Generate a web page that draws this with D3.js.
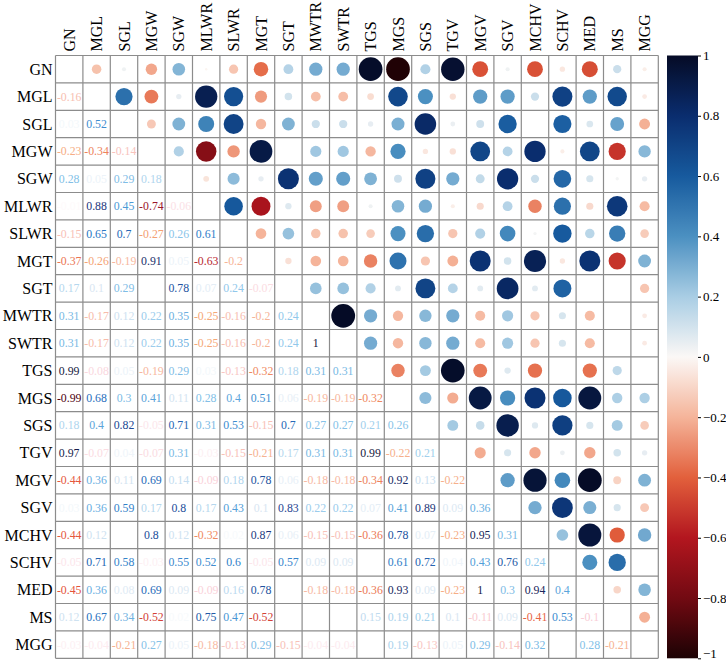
<!DOCTYPE html>
<html>
<head>
<meta charset="utf-8">
<script src="https://cdn.jsdelivr.net/npm/d3@7"></script>
<style>
  html, body { margin: 0; padding: 0; background: #ffffff; }
  svg { display: block; }
</style>
</head>
<body>
<svg id="chart" width="726" height="660"></svg>
<script>
// ---------- DATA ----------
const variables = ["GN","MGL","SGL","MGW","SGW","MLWR","SLWR","MGT","SGT","MWTR","SWTR",
                   "TGS","MGS","SGS","TGV","MGV","SGV","MCHV","SCHV","MED","MS","MGG"];

// lower-triangle correlation values (row i, columns 0..i-1)
const corrLower = [
  [],
  [-0.16],
  [0.03, 0.52],
  [-0.23, -0.34, -0.14],
  [0.28, 0.05, 0.29, 0.18],
  [-0.01, 0.88, 0.45, -0.74, -0.06],
  [-0.15, 0.65, 0.7, -0.27, 0.26, 0.61],
  [-0.37, -0.26, -0.19, 0.91, 0.05, -0.63, -0.2],
  [0.17, 0.1, 0.29, 0, 0.78, 0.07, 0.24, -0.07],
  [0.31, -0.17, 0.12, 0.22, 0.35, -0.25, -0.16, -0.2, 0.24],
  [0.31, -0.17, 0.12, 0.22, 0.35, -0.25, -0.16, -0.2, 0.24, 1],
  [0.99, -0.08, 0.05, -0.19, 0.29, 0.03, -0.13, -0.32, 0.18, 0.31, 0.31],
  [-0.99, 0.68, 0.3, 0.41, 0.11, 0.28, 0.4, 0.51, 0.06, -0.19, -0.19, -0.32],
  [0.18, 0.4, 0.82, -0.05, 0.71, 0.31, 0.53, -0.15, 0.7, 0.27, 0.27, 0.21, 0.26],
  [0.97, -0.07, 0.04, -0.07, 0.31, -0.03, -0.15, -0.21, 0.17, 0.31, 0.31, 0.99, -0.22, 0.21],
  [-0.44, 0.36, 0.11, 0.69, 0.14, -0.09, 0.18, 0.78, 0.06, -0.18, -0.18, -0.34, 0.92, 0.13, -0.22],
  [0.03, 0.36, 0.59, 0.17, 0.8, 0.17, 0.43, 0.1, 0.83, 0.22, 0.22, 0.07, 0.41, 0.89, 0.09, 0.36],
  [-0.44, 0.12, 0, 0.8, 0.12, -0.32, 0.02, 0.87, 0.06, -0.15, -0.15, -0.36, 0.78, 0.07, -0.23, 0.95, 0.31],
  [-0.05, 0.71, 0.58, -0.03, 0.55, 0.52, 0.6, -0.05, 0.57, 0.09, 0.09, 0, 0.61, 0.72, 0.04, 0.43, 0.76, 0.24],
  [-0.45, 0.36, 0.08, 0.69, 0.09, -0.09, 0.16, 0.78, 0, -0.18, -0.18, -0.36, 0.93, 0.09, -0.23, 1, 0.3, 0.94, 0.4],
  [0.12, 0.67, 0.34, -0.52, 0.02, 0.75, 0.47, -0.52, 0, 0, 0, 0.15, 0.19, 0.21, 0.1, -0.11, 0.09, -0.41, 0.53, -0.1],
  [-0.03, -0.04, -0.21, 0.27, 0.05, -0.18, -0.13, 0.29, -0.15, -0.04, -0.04, 0, 0.19, -0.13, 0.05, 0.29, -0.14, 0.32, 0, 0.28, -0.21]
];

const colorbarTicks = [1, 0.8, 0.6, 0.4, 0.2, 0, -0.2, -0.4, -0.6, -0.8, -1];

// ---------- LAYOUT ----------
const svg = d3.select("#chart");
const gridLeft = 55.5, gridTop = 55.5, gridSize = 602.8;
const FONT = "'Liberation Serif', 'Times New Roman', serif";

const x = d3.scaleBand().domain(variables).range([gridLeft, gridLeft + gridSize]).padding(0);
const y = d3.scaleBand().domain(variables).range([gridTop, gridTop + gridSize]).padding(0);
const cell = x.bandwidth();

// colour scale for circles / colorbar
const color = d3.scaleLinear()
  .domain([-1, -0.8, -0.6, -0.4, -0.2, 0, 0.2, 0.4, 0.6, 0.8, 1])
  .range(["#1c0204", "#720a12", "#b3161f", "#e2603c", "#f5b49a", "#fbf8f6",
          "#a9cde4", "#4b90c1", "#175a9e", "#0a2d6e", "#050b26"])
  .interpolate(d3.interpolateRgb);

// colour scale for numbers
const textColor = d3.scaleLinear()
  .domain([-1, -0.7, -0.45, -0.25, -0.1, 0, 0.1, 0.25, 0.45, 0.65, 0.85, 1])
  .range(["#4a0010", "#a8192e", "#e4533a", "#f5a878", "#f9cdd6", "#ffffff",
          "#d8e6f2", "#8cc6ea", "#4b9ad6", "#2876c4", "#1e3f8c", "#15163c"]);

const radius = d3.scaleSqrt().domain([0, 1]).range([0, 11.9]);

// full symmetric matrix
const cells = [];
corrLower.forEach((row, i) => {
  row.forEach((v, j) => {
    cells.push({ row: variables[i], col: variables[j], v, lower: true });
    cells.push({ row: variables[j], col: variables[i], v, lower: false });
  });
});

// background
svg.append("rect").attr("width", 726).attr("height", 660).attr("fill", "#ffffff");

// circles (upper triangle)
svg.append("g").selectAll("circle")
  .data(cells.filter(d => !d.lower))
  .join("circle")
  .attr("cx", d => x(d.col) + cell / 2)
  .attr("cy", d => y(d.row) + cell / 2)
  .attr("r", d => radius(Math.abs(d.v)))
  .attr("fill", d => color(d.v));

// numbers (lower triangle)
svg.append("g").selectAll("text")
  .data(cells.filter(d => d.lower))
  .join("text")
  .attr("x", d => x(d.col) + cell / 2)
  .attr("y", d => y(d.row) + cell / 2)
  .attr("text-anchor", "middle")
  .attr("dominant-baseline", "central")
  .attr("font-family", FONT)
  .attr("font-size", 11.8)
  .attr("fill", d => textColor(d.v))
  .text(d => String(d.v));

// grid
const grid = svg.append("g").attr("stroke", "#8c8c8c").attr("stroke-width", 1.2);
d3.range(variables.length + 1).forEach(k => {
  const p = gridLeft + k * cell;
  grid.append("line").attr("x1", p).attr("x2", p).attr("y1", gridTop).attr("y2", gridTop + gridSize);
  grid.append("line").attr("y1", p - gridLeft + gridTop).attr("y2", p - gridLeft + gridTop)
      .attr("x1", gridLeft).attr("x2", gridLeft + gridSize);
});

// row labels
svg.append("g").selectAll("text")
  .data(variables)
  .join("text")
  .attr("x", gridLeft - 3)
  .attr("y", d => y(d) + cell / 2)
  .attr("text-anchor", "end")
  .attr("dominant-baseline", "central")
  .attr("font-family", FONT)
  .attr("font-size", 16)
  .attr("fill", "#000")
  .text(d => d);

// column labels
svg.append("g").selectAll("text")
  .data(variables)
  .join("text")
  .attr("transform", d => `translate(${x(d) + cell / 2},${gridTop - 4}) rotate(-90)`)
  .attr("text-anchor", "start")
  .attr("dominant-baseline", "central")
  .attr("font-family", FONT)
  .attr("font-size", 16)
  .attr("fill", "#000")
  .text(d => d);

// colorbar
const cbX = 667, cbW = 31;
const cy = d3.scaleLinear().domain([-1, 1]).range([gridTop + gridSize, gridTop]);
const defs = svg.append("defs");
const grad = defs.append("linearGradient").attr("id", "cbgrad")
  .attr("x1", 0).attr("x2", 0).attr("y1", 1).attr("y2", 0);
d3.range(0, 1.0001, 0.02).forEach(t => {
  grad.append("stop").attr("offset", t).attr("stop-color", color(-1 + 2 * t));
});
svg.append("rect")
  .attr("x", cbX).attr("y", cy(1))
  .attr("width", cbW).attr("height", cy(-1) - cy(1))
  .attr("fill", "url(#cbgrad)");

const cbAxis = svg.append("g")
  .attr("transform", `translate(${cbX + cbW},0)`)
  .call(d3.axisRight(cy).tickValues(colorbarTicks).tickSize(3).tickPadding(2).tickFormat(d3.format("")));
cbAxis.select(".domain").remove();
cbAxis.selectAll(".tick line").attr("stroke", "#000");
cbAxis.selectAll(".tick text")
  .attr("font-family", FONT)
  .attr("font-size", 13)
  .attr("fill", "#000")
  .attr("dy", d => d === -1 ? "-0.05em" : "0.32em");
</script>
</body>
</html>
